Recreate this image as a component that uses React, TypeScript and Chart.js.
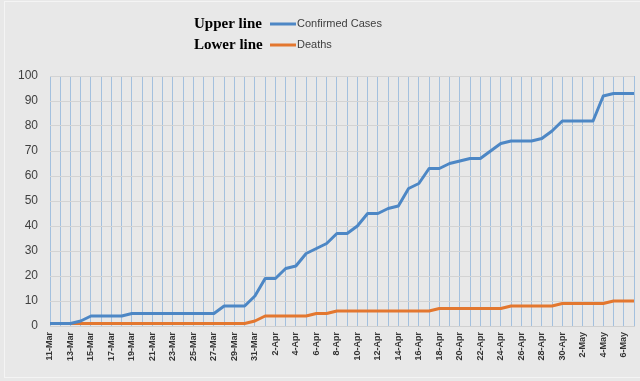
import React, { useEffect, useRef } from "react";
import { Chart, registerables } from "chart.js";

Chart.register(...registerables);

const dates = [
  "11-Mar", "12-Mar", "13-Mar", "14-Mar", "15-Mar", "16-Mar", "17-Mar", "18-Mar", "19-Mar", "20-Mar",
  "21-Mar", "22-Mar", "23-Mar", "24-Mar", "25-Mar", "26-Mar", "27-Mar", "28-Mar", "29-Mar", "30-Mar",
  "31-Mar", "1-Apr", "2-Apr", "3-Apr", "4-Apr", "5-Apr", "6-Apr", "7-Apr", "8-Apr", "9-Apr",
  "10-Apr", "11-Apr", "12-Apr", "13-Apr", "14-Apr", "15-Apr", "16-Apr", "17-Apr", "18-Apr", "19-Apr",
  "20-Apr", "21-Apr", "22-Apr", "23-Apr", "24-Apr", "25-Apr", "26-Apr", "27-Apr", "28-Apr", "29-Apr",
  "30-Apr", "1-May", "2-May", "3-May", "4-May", "5-May", "6-May", "7-May",
];

const confirmedCases = [
  1, 1, 1, 2, 4, 4, 4, 4, 5, 5,
  5, 5, 5, 5, 5, 5, 5, 8, 8, 8,
  12, 19, 19, 23, 24, 29, 31, 33, 37, 37,
  40, 45, 45, 47, 48, 55, 57, 63, 63, 65,
  66, 67, 67, 70, 73, 74, 74, 74, 75, 78,
  82, 82, 82, 82, 92, 93, 93, 93,
];

const deaths = [
  1, 1, 1, 1, 1, 1, 1, 1, 1, 1,
  1, 1, 1, 1, 1, 1, 1, 1, 1, 1,
  2, 4, 4, 4, 4, 4, 5, 5, 6, 6,
  6, 6, 6, 6, 6, 6, 6, 6, 7, 7,
  7, 7, 7, 7, 7, 8, 8, 8, 8, 8,
  9, 9, 9, 9, 9, 10, 10, 10,
];

const legendTitles = ["Upper line", "Lower line"];
const seriesNames = ["Confirmed Cases", "Deaths"];
const yTicks = { min: 0, max: 100, step: 10 };

const BLUE = "#4d87c5";
const ORANGE = "#e3772f";

const legendPlugin = {
  id: "customLegend",
  afterDraw(chart: any) {
    const ctx = chart.ctx as CanvasRenderingContext2D;
    ctx.save();
    ctx.strokeStyle = "#f4f4f4";
    ctx.lineWidth = 1;
    ctx.strokeRect(4.5, 1.5, 640, 376);
    const colors = [BLUE, ORANGE];
    const rowsY = [24, 45];
    for (let i = 0; i < 2; i++) {
      const y = rowsY[i];
      ctx.fillStyle = "#000";
      ctx.font = "bold 15px 'Liberation Serif', serif";
      ctx.textBaseline = "middle";
      ctx.textAlign = "left";
      ctx.fillText(legendTitles[i], 194, y);
      ctx.strokeStyle = colors[i];
      ctx.lineWidth = 3;
      ctx.beginPath();
      ctx.moveTo(270, y);
      ctx.lineTo(296, y);
      ctx.stroke();
      ctx.fillStyle = "#404040";
      ctx.font = "11px 'Liberation Sans', sans-serif";
      ctx.fillText(seriesNames[i], 297, y);
    }
    ctx.restore();
  },
};

export default function App() {
  const ref = useRef<HTMLCanvasElement | null>(null);

  useEffect(() => {
    document.body.style.margin = "0";
    if (!ref.current) return;
    const chart = new Chart(ref.current, {
      type: "line",
      data: {
        labels: dates,
        datasets: [
          {
            label: seriesNames[0],
            data: confirmedCases,
            borderColor: BLUE,
            backgroundColor: BLUE,
            borderWidth: 3,
            pointRadius: 0,
            tension: 0,
            borderJoinStyle: "round",
          },
          {
            label: seriesNames[1],
            data: deaths,
            borderColor: ORANGE,
            backgroundColor: ORANGE,
            borderWidth: 3,
            pointRadius: 0,
            tension: 0,
            borderJoinStyle: "round",
          },
        ],
      },
      options: {
        animation: false,
        responsive: false,
        maintainAspectRatio: false,
        layout: { padding: { top: 76, left: 8, right: 6, bottom: 0 } },
        plugins: {
          legend: { display: false },
          tooltip: { enabled: false },
        },
        scales: {
          x: {
            offset: false,
            grid: {
              color: "#a3c0de",
              lineWidth: 1,
              drawTicks: false,
            },
            border: { display: true, color: "#d0d0d0" },
            ticks: {
              autoSkip: false,
              maxRotation: 90,
              minRotation: 90,
              padding: 6,
              color: "#333",
              font: { family: "'Liberation Sans', sans-serif", size: 9, weight: "bold" },
              callback: (_v: any, i: number) => (i % 2 === 0 ? dates[i] : ""),
            },
            afterFit: (s: any) => {
              s.height = 55;
              s.paddingLeft = 0;
              s.paddingRight = 0;
            },
          },
          y: {
            min: yTicks.min,
            max: yTicks.max,
            grid: { color: "#d3d3d3", lineWidth: 1, drawTicks: false },
            border: { display: false },
            ticks: {
              stepSize: yTicks.step,
              padding: 12,
              color: "#404040",
              font: { family: "'Liberation Sans', sans-serif", size: 12 },
            },
            afterFit: (s: any) => {
              s.width = 42;
              s.paddingTop = 0;
              s.paddingBottom = 0;
            },
          },
        },
      },
      plugins: [legendPlugin],
    });
    return () => chart.destroy();
  }, []);

  return (
    <div style={{ width: 640, height: 381, background: "#e8e8e8" }}>
      <canvas ref={ref} width={640} height={381} style={{ display: "block" }} />
    </div>
  );
}
